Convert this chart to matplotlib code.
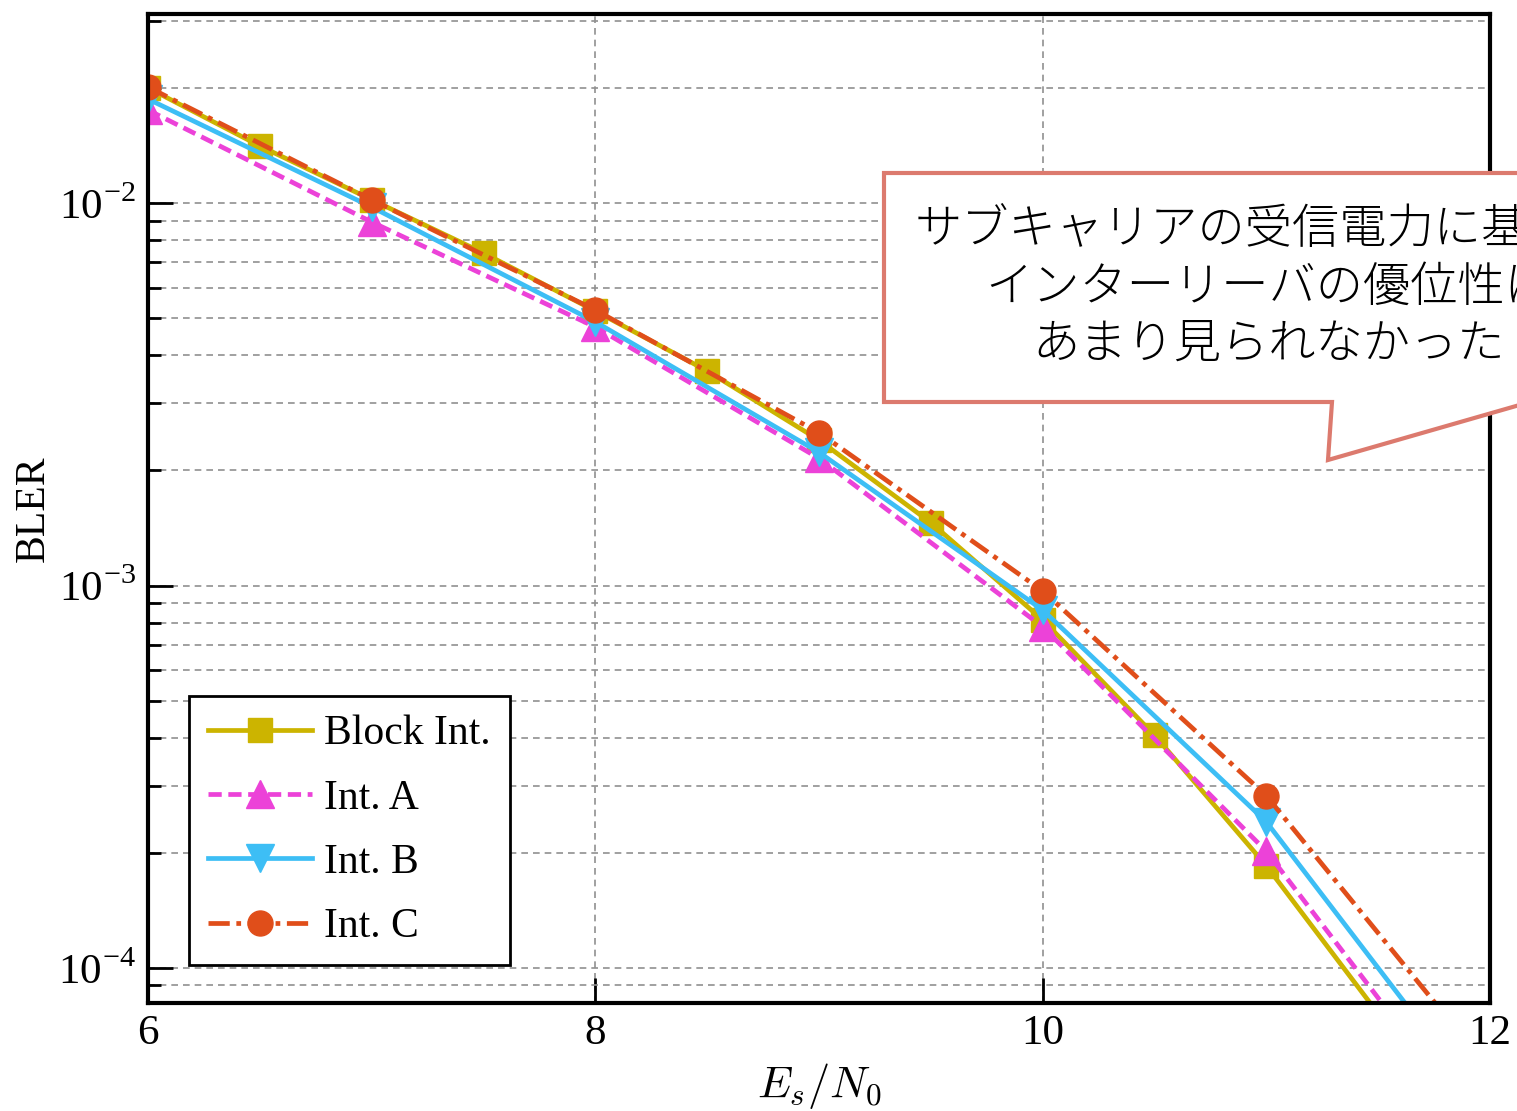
import numpy as np
import matplotlib
matplotlib.use("Agg")
import matplotlib.pyplot as plt
from matplotlib.patches import Polygon
from matplotlib.ticker import FuncFormatter, LogLocator, NullFormatter

plt.rcParams['font.family'] = ['Liberation Serif', 'DejaVu Serif']
plt.rcParams['mathtext.fontset'] = 'cm'

# data
es_half = [6.0, 6.5, 7.0, 7.5, 8.0, 8.5, 9.0, 9.5, 10.0, 10.5, 11.0, 11.5]
bler_block = [0.0200, 0.0141, 0.0102, 0.00740, 0.00522, 0.00364, 0.00240,
              0.00146, 0.000813, 0.000406, 0.000185, 7.6e-5]

es_int = [6, 7, 8, 9, 10, 11, 12]
bler_a = [0.0175, 0.00892, 0.00474, 0.00215, 0.000780, 0.000202, 3.45e-5]
bler_b = [0.0187, 0.00976, 0.00489, 0.00223, 0.000863, 0.000241, 4.15e-5]
bler_c = [0.0201, 0.0102, 0.00525, 0.00251, 0.000968, 0.000282, 5.4e-5]

labels = ['Block Int.', 'Int. A', 'Int. B', 'Int. C']
colors = ['#ccb400', '#ec42d8', '#3dbef5', '#e04e1a']

note = 'サブキャリアの受信電力に基づく\nインターリーバの優位性は\nあまり見られなかった'

W, H = 1517, 1111
fig = plt.figure(figsize=(W / 100, H / 100), dpi=100)
ax = fig.add_axes([148 / W, 1 - 1003 / H, (1490 - 148) / W, (1003 - 14) / H])

lw = 3.4
ax.plot(es_half, bler_block, color=colors[0], lw=lw, ls='-', marker='s', ms=17, label=labels[0])
ax.plot(es_int, bler_a, color=colors[1], lw=lw, ls=(0, (2.8, 1.4)), marker='^', ms=20, label=labels[1])
ax.plot(es_int, bler_b, color=colors[2], lw=lw, ls='-', marker='v', ms=20, label=labels[2])
ax.plot(es_int, bler_c, color=colors[3], lw=lw, ls=(0, (4.5, 1.4, 1, 1.4)), marker='o', ms=18, label=labels[3])

ax.set_yscale('log')
ax.set_xlim(6, 12)
ax.set_ylim(8.1e-5, 0.0312)
ax.set_xticks([6, 8, 10, 12])
ax.yaxis.set_major_locator(LogLocator(base=10, numticks=10))
ax.yaxis.set_minor_locator(LogLocator(base=10, subs=np.arange(2, 10), numticks=20))
ax.yaxis.set_major_formatter(FuncFormatter(lambda v, p: r'10$^{\mathregular{-%d}}$' % round(-np.log10(v))))
ax.yaxis.set_minor_formatter(NullFormatter())

ax.tick_params(which='major', direction='in', length=18, width=2, labelsize=31, pad=8,
               right=False, top=False)
ax.tick_params(which='minor', direction='in', length=9, width=2, right=False, top=False)

ax.yaxis.grid(True, which='both', ls=(0, (4, 3)), color='#909090', lw=1.2)
ax.xaxis.grid(True, which='major', ls=(0, (4, 3)), color='#909090', lw=1.2)
for s in ax.spines.values():
    s.set_linewidth(3)

ax.set_xlabel(r'$E_s/N_0$', fontsize=32, labelpad=6)
ax.set_ylabel('BLER', fontsize=30, labelpad=4)

leg = ax.legend(loc='lower left', bbox_to_anchor=(0.0306, 0.0384), borderaxespad=0,
                fontsize=30, handlelength=2.5, handletextpad=0.3, labelspacing=0.62,
                borderpad=0.45, fancybox=False, framealpha=1, edgecolor='black')
leg.get_frame().set_linewidth(2)

# speech-bubble callout, partly outside the figure like the original
bubble_px = [(884, 173), (1680, 173), (1680, 402), (1530, 402),
             (1328, 460), (1332, 402), (884, 402)]
bubble = Polygon([(x / W, 1 - y / H) for x, y in bubble_px], closed=True,
                 transform=fig.transFigure, facecolor='white', edgecolor='#dc7a6e',
                 lw=3, zorder=10)
fig.patches.append(bubble)
fig.text(1269 / W, 1 - 287 / H, note, ha='center', va='center', multialignment='center',
         fontsize=34, linespacing=1.22, family=['Noto Sans CJK JP', 'DejaVu Sans'],
         fontweight='light', zorder=11)

fig.savefig('out.png', dpi=100)
